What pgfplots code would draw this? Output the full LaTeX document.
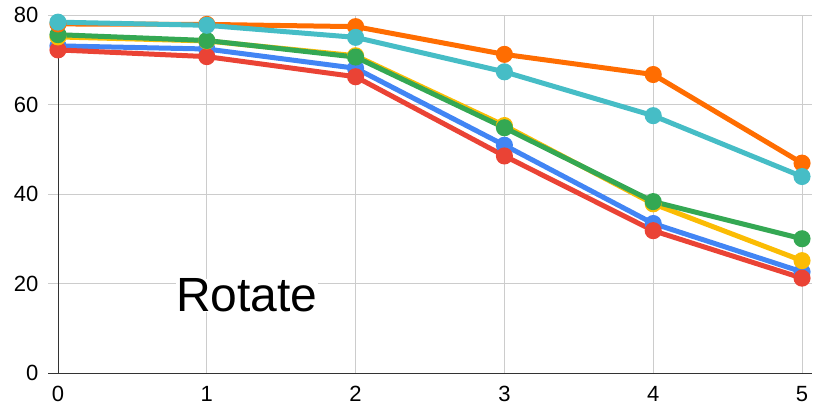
\documentclass[border=0pt]{standalone}
\usepackage{pgfplots}
\pgfplotsset{compat=1.18}
\usepackage{fontspec}
\setmainfont{Liberation Sans}
\definecolor{gblue}{HTML}{4285F4}
\definecolor{gred}{HTML}{EA4335}
\definecolor{gyellow}{HTML}{FBBC04}
\definecolor{ggreen}{HTML}{34A853}
\definecolor{gorange}{HTML}{FF6D01}
\definecolor{gcyan}{HTML}{46BDC6}
\definecolor{gridgray}{HTML}{CCCCCC}
\begin{document}
\begin{tikzpicture}[x=1pt,y=1pt]
\useasboundingbox (0,0) rectangle (815,417);
\begin{axis}[
  at={(48pt,44pt)}, anchor=south west,
  scale only axis, width=764pt, height=358pt,
  xmin=-0.067, xmax=5.067, ymin=0, ymax=80,
  xtick={0,1,2,3,4,5}, ytick={0,20,40,60,80},
  axis line style={draw=none},
  grid=major, major grid style={gridgray, line width=0.8pt},
  tick style={draw=none},
  /pgf/number format/assume math mode=true,
  ticklabel style={font=\fontsize{22}{22}\selectfont},
  xticklabel style={yshift=-10pt},
  yticklabel style={xshift=-6pt},
  clip=false,
  every axis plot/.append style={line width=5pt, mark=*, mark size=6pt, mark options={solid}},
]
\draw[black!80, line width=0.8pt] (axis cs:-0.067,0) -- (axis cs:5.067,0);
\draw[black!80, line width=0.8pt] (axis cs:0,0) -- (axis cs:0,80);
\addplot[gblue] coordinates {(0,73.1) (1,72.4) (2,68.1) (3,50.9) (4,33.4) (5,22.6)};
\addplot[gred] coordinates {(0,72.2) (1,70.7) (2,66.2) (3,48.5) (4,31.8) (5,21.2)};
\addplot[gyellow] coordinates {(0,75.1) (1,74.2) (2,70.9) (3,55.3) (4,37.8) (5,25.1)};
\addplot[ggreen] coordinates {(0,75.6) (1,74.3) (2,70.6) (3,54.8) (4,38.3) (5,30.0)};
\addplot[gorange] coordinates {(0,78.0) (1,77.9) (2,77.4) (3,71.2) (4,66.7) (5,46.9)};
\addplot[gcyan] coordinates {(0,78.4) (1,77.7) (2,75.0) (3,67.3) (4,57.5) (5,43.9)};
\end{axis}
\node[anchor=base west, inner sep=0pt, fill=white, font=\fontsize{48}{48}\selectfont] at (176,105) {Rotate};
\end{tikzpicture}
\end{document}
